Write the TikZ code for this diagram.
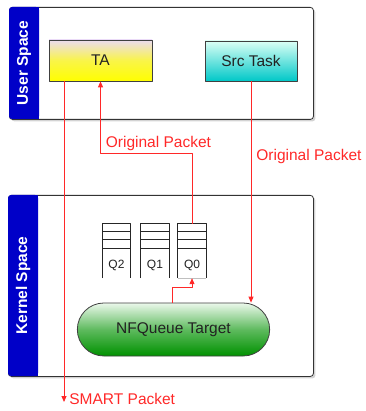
\documentclass[tikz,border=0pt]{standalone}
\usepackage{fontspec}
\setmainfont{Liberation Sans}
\usetikzlibrary{arrows.meta, shapes, shadows, positioning}
\definecolor{bandblue}{RGB}{0,0,200}
\definecolor{pktred}{RGB}{255,40,40}
\definecolor{textgrey}{RGB}{34,34,34}
\definecolor{tatop}{RGB}{236,220,240}
\definecolor{srctop}{RGB}{220,255,245}
\definecolor{srcbottom}{RGB}{0,200,200}
\definecolor{nfqtop}{RGB}{235,248,235}
\definecolor{nfqbottom}{RGB}{0,145,0}
\tikzset{panel/.style={rectangle, rounded corners=3pt, fill=white, draw=black!80, line width=0.8pt, anchor=north west,
drop shadow={shadow xshift=2pt, shadow yshift=-2pt, opacity=0.35}},
bandtext/.style={text=white, font=\fontsize{15.5}{18}\selectfont\bfseries, rotate=90},
taskbox/.style={rectangle, draw=black!75, line width=0.8pt, text=textgrey, font=\fontsize{15.5}{18}\selectfont}}

\begin{document}
\begin{tikzpicture}[
                line join=round,
                redarrow/.style={draw=pktred, line width=0.8pt, -{Triangle[length=6pt, width=5pt]}},
                pktlabel/.style={text=pktred, font=\fontsize{15.5}{18}\selectfont, inner sep=1pt}
            ]
                \useasboundingbox (0pt, 0pt) rectangle (365pt, -411pt);

                % Panels
                \node[panel, minimum width=304pt, minimum height=112pt] (user) at (9pt, -7pt) {};
                \node[panel, minimum width=305pt, minimum height=181pt] (kernel) at (8pt, -195pt) {};

                \fill[bandblue, rounded corners=3pt] (user.north west) rectangle ++(30pt, -112pt);
                \fill[bandblue] ([xshift=15pt]user.north west) rectangle ++(15pt, -112pt);
                \fill[bandblue, rounded corners=3pt] (kernel.north west) rectangle ++(30pt, -181pt);
                \fill[bandblue] ([xshift=15pt]kernel.north west) rectangle ++(15pt, -181pt);
                \node[bandtext] (userlabel) at (24pt, -63pt) {User Space};
                \node[bandtext] (kernellabel) at (23pt, -285.5pt) {Kernel Space};

                % Tasks
                \node[taskbox, minimum width=103pt, minimum height=41pt, top color=tatop, bottom color=yellow, middle color=yellow!70!tatop] (ta) at (100.5pt, -60.5pt) {TA};
                \node[taskbox, minimum width=92pt, minimum height=40pt, top color=srctop, bottom color=srcbottom] (src) at (251pt, -61pt) {Src Task};
                \node[taskbox, rounded rectangle, minimum width=199pt, minimum height=53pt, top color=nfqtop, bottom color=nfqbottom, middle color=nfqbottom!60!nfqtop] (nfq) at (173.5pt, -329.5pt) {NFQueue Target};

                % Queues
                \foreach \q/\x in {2/116.5, 1/155, 0/192} {
\node[minimum width=28pt, minimum height=54pt, inner sep=0pt] (q\q) at (\x pt, -251pt) {};
\draw[black!85, line width=0.7pt] (q\q.south west) -- (q\q.north west) -- (q\q.north east) -- (q\q.south east);
\foreach \y in {8, 16, 25} {
\draw[black!85, line width=0.7pt] ([yshift=-\y pt]q\q.north west) -- ([yshift=-\y pt]q\q.north east);
}
\node[text=textgrey, font=\fontsize{12}{14}\selectfont, above=4pt of q\q.south] (ql\q) {Q\q};
}
                \draw[black!25, line width=0.7pt] (q0.south west) -- (q0.south east);

                % Packets
                \coordinate (smartend) at (64pt, -402pt);
                \draw[redarrow] (ta.south -| smartend) -- (smartend) node[pktlabel, right=4pt, yshift=3pt] {SMART Packet};
                \draw[redarrow] (q0.north) |- ([yshift=-72pt]ta.south) node[pktlabel, above right=1pt and 4pt] {Original Packet} -- (ta.south);
                \draw[redarrow] (src.south) -- (src.south |- nfq.north) node[pktlabel, pos=0.34, right=4pt] {Original Packet};
                \draw[redarrow] ([xshift=-1.5pt]nfq.north) -- ++(0pt, 15pt) -| (q0.south);
            \end{tikzpicture}
\end{document}
